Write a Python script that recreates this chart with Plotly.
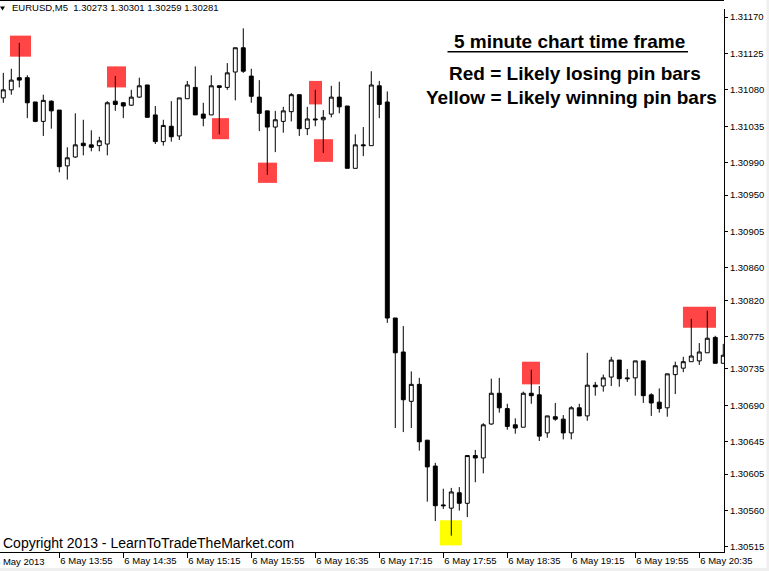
import pandas as pd
import plotly.graph_objects as go

# ---------------- data ----------------
start = "2013-05-06 13:20"

opens = [1.31070, 1.31080, 1.31095, 1.31095, 1.31065, 1.31041, 1.31066, 1.31055, 1.30986, 1.30997,
         1.31014, 1.31012, 1.31011, 1.31013, 1.31066, 1.31064, 1.31061, 1.31071, 1.31086, 1.31049,
         1.31016, 1.31035, 1.31023, 1.31069, 1.31083, 1.31050, 1.31049, 1.31085, 1.31083, 1.31102,
         1.31132, 1.31097, 1.31071, 1.31054, 1.31034, 1.31041, 1.31053, 1.31074, 1.31032, 1.31044,
         1.31043, 1.31050, 1.31071, 1.31060, 1.30983, 1.31012, 1.31011, 1.31085, 1.31065, 1.30798,
         1.30756, 1.30695, 1.30716, 1.30647, 1.30615, 1.30567, 1.30563, 1.30582, 1.30569, 1.30628,
         1.30625, 1.30667, 1.30705, 1.30686, 1.30666, 1.30663, 1.30705, 1.30703, 1.30656, 1.30676,
         1.30673, 1.30656, 1.30687, 1.30677, 1.30715, 1.30714, 1.30725, 1.30746, 1.30724, 1.30724,
         1.30745, 1.30703, 1.30694, 1.30687, 1.30728, 1.30736, 1.30744, 1.30745, 1.30755, 1.30774,
         1.30742]

highs = [1.31101, 1.31106, 1.31138, 1.31098, 1.31065, 1.31074, 1.31067, 1.31055, 1.31009, 1.31051,
         1.31043, 1.31030, 1.31022, 1.31066, 1.31097, 1.31065, 1.31080, 1.31095, 1.31086, 1.31060,
         1.31043, 1.31066, 1.31070, 1.31091, 1.31109, 1.31064, 1.31098, 1.31085, 1.31113, 1.31132,
         1.31156, 1.31106, 1.31092, 1.31054, 1.31054, 1.31059, 1.31076, 1.31074, 1.31059, 1.31080,
         1.31055, 1.31085, 1.31090, 1.31060, 1.31025, 1.31034, 1.31103, 1.31091, 1.31078, 1.30798,
         1.30788, 1.30732, 1.30724, 1.30647, 1.30619, 1.30587, 1.30588, 1.30589, 1.30628, 1.30635,
         1.30668, 1.30723, 1.30724, 1.30692, 1.30674, 1.30707, 1.30734, 1.30714, 1.30677, 1.30693,
         1.30678, 1.30689, 1.30692, 1.30755, 1.30719, 1.30728, 1.30750, 1.30746, 1.30735, 1.30745,
         1.30745, 1.30705, 1.30711, 1.30729, 1.30744, 1.30750, 1.30797, 1.30767, 1.30807, 1.30776,
         1.30766]

lows = [1.31064, 1.31074, 1.31083, 1.31045, 1.31040, 1.31023, 1.31032, 1.30978, 1.30969, 1.30996,
        1.30999, 1.31004, 1.31004, 1.30999, 1.31054, 1.31045, 1.31060, 1.31070, 1.31046, 1.31013,
        1.31011, 1.31016, 1.31018, 1.31069, 1.31049, 1.31035, 1.31049, 1.31025, 1.31080, 1.31067,
        1.31101, 1.31064, 1.31029, 1.30975, 1.31003, 1.31027, 1.31041, 1.31023, 1.31024, 1.31035,
        1.31002, 1.31046, 1.31051, 1.30983, 1.30983, 1.30998, 1.31011, 1.31045, 1.30792, 1.30662,
        1.30657, 1.30662, 1.30634, 1.30571, 1.30547, 1.30562, 1.30529, 1.30560, 1.30552, 1.30595,
        1.30606, 1.30666, 1.30681, 1.30660, 1.30655, 1.30663, 1.30692, 1.30646, 1.30650, 1.30671,
        1.30648, 1.30648, 1.30677, 1.30671, 1.30702, 1.30707, 1.30714, 1.30713, 1.30719, 1.30702,
        1.30693, 1.30677, 1.30681, 1.30676, 1.30704, 1.30731, 1.30744, 1.30740, 1.30755, 1.30742,
        1.30742]

closes = [1.31080, 1.31092, 1.31092, 1.31064, 1.31041, 1.31067, 1.31054, 1.30985, 1.30996, 1.31012,
          1.31011, 1.31009, 1.31017, 1.31064, 1.31062, 1.31060, 1.31071, 1.31085, 1.31046, 1.31016,
          1.31036, 1.31022, 1.31070, 1.31086, 1.31049, 1.31045, 1.31085, 1.31083, 1.31101, 1.31132,
          1.31103, 1.31072, 1.31051, 1.31034, 1.31043, 1.31054, 1.31074, 1.31032, 1.31044, 1.31043,
          1.31046, 1.31071, 1.31059, 1.30983, 1.31012, 1.31011, 1.31086, 1.31062, 1.30798, 1.30755,
          1.30697, 1.30716, 1.30645, 1.30614, 1.30566, 1.30566, 1.30583, 1.30569, 1.30628, 1.30625,
          1.30666, 1.30705, 1.30687, 1.30664, 1.30662, 1.30705, 1.30702, 1.30652, 1.30677, 1.30673,
          1.30656, 1.30687, 1.30677, 1.30715, 1.30713, 1.30724, 1.30746, 1.30723, 1.30723, 1.30745,
          1.30702, 1.30693, 1.30686, 1.30729, 1.30739, 1.30744, 1.30751, 1.30756, 1.30773, 1.30742,
          1.30752]

# price-axis tick values
price_ticks = [1.31170, 1.31125, 1.31080, 1.31035, 1.30990, 1.30950, 1.30905, 1.30860,
               1.30820, 1.30775, 1.30735, 1.30690, 1.30645, 1.30605, 1.30560, 1.30515]

# time-axis tick times and labels
time_ticks = ["2013-05-06 13:55", "2013-05-06 14:35", "2013-05-06 15:15", "2013-05-06 15:55",
              "2013-05-06 16:35", "2013-05-06 17:15", "2013-05-06 17:55", "2013-05-06 18:35",
              "2013-05-06 19:15", "2013-05-06 19:55", "2013-05-06 20:35"]
time_labels = ["6 May 13:55", "6 May 14:35", "6 May 15:15", "6 May 15:55", "6 May 16:35",
               "6 May 17:15", "6 May 17:55", "6 May 18:35", "6 May 19:15", "6 May 19:55",
               "6 May 20:35"]

# highlighted pin bars (bar index span, price span)
hl_from = [0.84, 12.96, 26.09, 31.84, 38.21, 38.84, 64.84, 84.96, 54.59]
hl_to = [3.46, 15.34, 28.21, 34.21, 39.84, 41.21, 67.09, 89.09, 57.34]
hl_low = [1.31121, 1.31083, 1.31019, 1.30965, 1.31062, 1.30991, 1.30716, 1.30786, 1.30517]
hl_high = [1.31147, 1.31109, 1.31045, 1.30990, 1.31091, 1.31019, 1.30744, 1.30812, 1.30548]
hl_kind = ["red"] * 8 + ["yellow"]

header_text = "EURUSD,M5\u00a0\u00a01.30273 1.30301 1.30259 1.30281"

# ---------------- layout geometry ----------------
W, H = 769, 571
ML, MR, MT, MB = 0, 45, 9, 19
PW, PH = W - ML - MR, H - MT - MB


def px(x):
    return (x - ML) / PW


def py(y):
    return (H - MB - y) / PH


t0 = pd.Timestamp(start)
step = pd.Timedelta(minutes=5)
times = pd.date_range(t0, periods=len(opens), freq="5min")

fig = go.Figure()
fig.add_trace(go.Candlestick(
    x=times, open=opens, high=highs, low=lows, close=closes,
    increasing=dict(line=dict(color="black", width=1), fillcolor="white"),
    decreasing=dict(line=dict(color="black", width=1), fillcolor="black"),
    whiskerwidth=0, showlegend=False, hoverinfo="skip",
))

colors = {"red": "#FF4545", "yellow": "#FFFF00"}
shapes = []
for a, b, lo, hi, k in zip(hl_from, hl_to, hl_low, hl_high, hl_kind):
    shapes.append(dict(type="rect", xref="x", yref="y",
                       x0=t0 + step * a, x1=t0 + step * b, y0=lo, y1=hi,
                       fillcolor=colors[k], line=dict(width=0), layer="below"))

# underline of the title
shapes.append(dict(type="line", xref="paper", yref="paper",
                   x0=px(447.5), x1=px(688), y0=py(51.7), y1=py(51.7),
                   line=dict(color="black", width=1.5)))
# top window edge
shapes.append(dict(type="line", xref="paper", yref="paper",
                   x0=px(0), x1=px(724), y0=py(0.5), y1=py(0.5),
                   line=dict(color="black", width=1)))
# small drop-down triangle
shapes.append(dict(type="path", xref="paper", yref="paper",
                   path=f"M {px(0)},{py(6.5)} L {px(5)},{py(6.5)} L {px(2.5)},{py(10.5)} Z",
                   fillcolor="black", line=dict(width=0)))
# light grey window frame strips
shapes.append(dict(type="rect", xref="paper", yref="paper",
                   x0=px(0), x1=px(769), y0=py(571), y1=py(568),
                   fillcolor="#EFEFEF", line=dict(width=0), layer="below"))
shapes.append(dict(type="rect", xref="paper", yref="paper",
                   x0=px(766.5), x1=px(769), y0=py(571), y1=py(0),
                   fillcolor="#EFEFEF", line=dict(width=0), layer="below"))

small = dict(family="Liberation Sans", size=9.5, color="black")
big = dict(family="Liberation Sans", size=19, color="black", weight="bold")

annotations = [
    dict(text=header_text, x=px(9.5), y=py(8), xref="paper", yref="paper",
         xanchor="left", yanchor="middle", showarrow=False, font=small),
    dict(text="6 May 2013", x=px(-7), y=py(561), xref="paper", yref="paper",
         xanchor="left", yanchor="middle", showarrow=False, font=small),
    dict(text="5 minute chart time frame", x=px(569), y=py(41.5), xref="paper", yref="paper",
         xanchor="center", yanchor="middle", showarrow=False, font=big),
    dict(text="Red = Likely losing pin bars", x=px(575), y=py(73), xref="paper", yref="paper",
         xanchor="center", yanchor="middle", showarrow=False, font=big),
    dict(text="Yellow = Likely winning pin bars", x=px(571), y=py(97), xref="paper", yref="paper",
         xanchor="center", yanchor="middle", showarrow=False, font=big),
    dict(text="Copyright 2013 - LearnToTradeTheMarket.com", x=px(1), y=py(543), xref="paper",
         yref="paper", xanchor="left", yanchor="middle", showarrow=False,
         font=dict(family="Liberation Sans", size=14, color="black")),
]

fig.update_layout(
    width=W, height=H,
    margin=dict(l=ML, r=MR, t=MT, b=MB, pad=0),
    paper_bgcolor="white", plot_bgcolor="white",
    shapes=shapes, annotations=annotations,
    showlegend=False,
    xaxis=dict(
        type="date", range=[t0 - step * 0.4125, t0 + step * 90.09],
        rangeslider=dict(visible=False),
        tickvals=time_ticks, ticktext=time_labels,
        ticks="outside", ticklen=5, tickcolor="black", tickwidth=1,
        ticklabelposition="outside right",
        tickfont=small, showline=True, linecolor="black", linewidth=1,
        showgrid=False, zeroline=False, fixedrange=True,
    ),
    yaxis=dict(
        side="right", range=[1.305088, 1.311799],
        tickvals=price_ticks, ticktext=[f"{v:.5f}" for v in price_ticks],
        ticks="outside", ticklen=3, tickcolor="black", tickwidth=1,
        tickfont=small, showline=True, linecolor="black", linewidth=1,
        showgrid=False, zeroline=False, fixedrange=True,
    ),
)

fig.write_html("out.html", config={"displayModeBar": False},
               post_script="document.body.style.margin='0';")
